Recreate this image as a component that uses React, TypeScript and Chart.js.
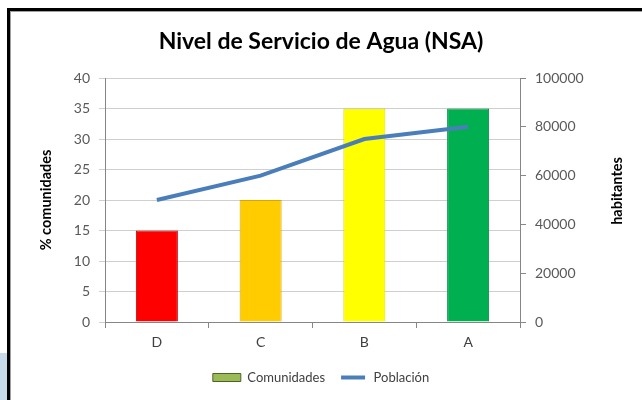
import React, { useEffect, useRef } from 'react';
import { Chart, registerables } from 'chart.js';

Chart.register(...registerables);

const categories = ['D', 'C', 'B', 'A'];
const comunidades = [15, 20, 35, 35];
const poblacion = [50000, 60000, 75000, 80000];
const barColors = ['#FF0000', '#FFCC00', '#FFFF00', '#00B050'];
const barBorders = ['#C00000', '#D9A600', '#D6D600', '#00863C'];
const titleText = 'Nivel de Servicio de Agua (NSA)';
const leftAxisTitle = '% comunidades';
const rightAxisTitle = 'habitantes';
const seriesNames = ['Comunidades', 'Población'];

const FONT = 'Lato, "Open Sans", "Liberation Sans", sans-serif';

const framePlugin = {
  id: 'frame',
  afterDraw(chart: any) {
    const ctx = chart.ctx;
    ctx.save();
    // light blue corner at bottom-left
    ctx.fillStyle = '#C8DAEA';
    ctx.fillRect(0, 353, 7, 47);
    // black frame
    ctx.fillStyle = '#000000';
    ctx.fillRect(7, 8, 3, 392);
    ctx.fillRect(7, 8, 635, 3);
    ctx.fillStyle = '#A0A0A0';
    ctx.fillRect(10, 11, 1, 389);
    ctx.fillRect(10, 11, 632, 1);
    // right axis title, reading bottom-to-top
    const area = chart.chartArea;
    const y1 = chart.scales.y1;
    ctx.translate(y1.right - 25, (area.top + area.bottom) / 2 - 9);
    ctx.rotate(-Math.PI / 2);
    ctx.font = 'bold 14.5px ' + FONT;
    ctx.fillStyle = '#000000';
    ctx.textAlign = 'center';
    ctx.textBaseline = 'middle';
    ctx.fillText(rightAxisTitle, 0, 0);
    ctx.restore();
  },
};

export default function App() {
  const ref = useRef<HTMLCanvasElement>(null);

  useEffect(() => {
    if (!ref.current) return;
    const chart = new Chart(ref.current, {
      type: 'bar',
      data: {
        labels: categories,
        datasets: [
          {
            type: 'bar',
            label: seriesNames[0],
            data: comunidades,
            backgroundColor: barColors,
            borderColor: barBorders,
            borderWidth: 1,
            yAxisID: 'y',
            categoryPercentage: 1,
            barPercentage: 0.405,
            order: 1,
          },
          {
            type: 'line',
            label: seriesNames[1],
            data: poblacion,
            borderColor: '#4A7EBB',
            backgroundColor: '#4A7EBB',
            borderWidth: 4,
            pointRadius: 0,
            tension: 0,
            yAxisID: 'y1',
            order: 0,
          },
        ],
      } as any,
      options: {
        responsive: false,
        animation: false,
        layout: { padding: { left: 0, right: 0, top: 0, bottom: 6 } },
        plugins: {
          tooltip: { enabled: false },
          title: {
            display: true,
            text: titleText,
            color: '#000000',
            font: { family: FONT, size: 23, weight: 'bold' },
            padding: { top: 28, bottom: 22.4 },
          },
          legend: {
            display: true,
            position: 'bottom',
            labels: {
              boxWidth: 28,
              boxHeight: 8,
              padding: 14,
              color: '#404040',
              font: { family: FONT, size: 13 },
              generateLabels: () => [
                {
                  text: seriesNames[0],
                  fillStyle: '#9BBB59',
                  strokeStyle: '#4F6228',
                  lineWidth: 1,
                  hidden: false,
                  datasetIndex: 0,
                  fontColor: '#404040',
                },
                {
                  text: seriesNames[1],
                  fillStyle: '#4A7EBB',
                  strokeStyle: '#FFFFFF',
                  lineWidth: 4,
                  hidden: false,
                  datasetIndex: 1,
                  fontColor: '#404040',
                },
              ],
            },
          },
        },
        scales: {
          x: {
            grid: { display: true, drawOnChartArea: false, offset: true, tickLength: 6, color: '#868686' },
            border: { color: '#868686' },
            ticks: { color: '#404040', font: { family: FONT, size: 14 }, padding: 6 },
            afterFit: (s: any) => { s.height = 35; },
          },
          y: {
            position: 'left',
            min: 0,
            max: 40,
            ticks: { stepSize: 5, color: '#595959', font: { family: FONT, size: 14 }, padding: 9 },
            grid: { color: '#CFCFCF', tickLength: 6 },
            border: { color: '#868686' },
            title: {
              display: true,
              text: leftAxisTitle,
              color: '#000000',
              font: { family: FONT, size: 14.5, weight: 'bold' },
              padding: { top: 38, bottom: 0 },
            },
            afterFit: (s: any) => { s.width = 105; },
          },
          y1: {
            position: 'right',
            min: 0,
            max: 100000,
            ticks: {
              stepSize: 20000,
              color: '#595959',
              font: { family: FONT, size: 14 },
              padding: 9,
              callback: (v: any) => String(v),
            },
            grid: { drawOnChartArea: false, tickLength: 6, color: '#868686' },
            border: { color: '#868686' },
            afterFit: (s: any) => { s.width = 122; },
          },
        },
      } as any,
      plugins: [framePlugin],
    });
    return () => chart.destroy();
  }, []);

  return (
    <div style={{ position: 'fixed', left: 0, top: 0, width: 642, height: 400, background: '#FFFFFF' }}>
      <canvas ref={ref} width={642} height={400} style={{ display: 'block' }} />
    </div>
  );
}
